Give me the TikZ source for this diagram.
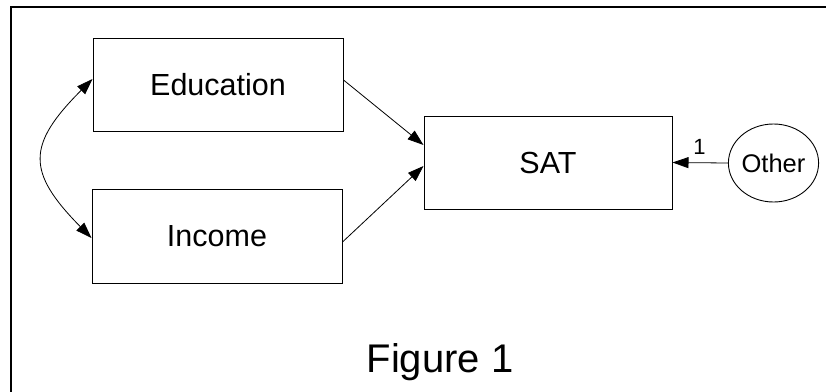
\documentclass[tikz,border=0pt]{standalone}
\usepackage{fontspec}
\setmainfont{Liberation Sans}
\usetikzlibrary{arrows.meta,shapes.geometric,calc}

\tikzset{
  varbox/.style={draw, line width=1pt, rectangle, inner sep=0pt,
    minimum width=250pt, minimum height=93pt,
    font=\fontsize{30.5}{36}\selectfont},
  errnode/.style={draw, line width=0.9pt, ellipse, inner sep=0pt,
    minimum width=69pt, minimum height=78pt,
    font=\fontsize{25.5}{30}\selectfont},
  regpath/.style={line width=0.8pt, -{Triangle[length=16pt,width=11pt]}},
  framestyle/.style={line width=2.5pt}
}

\begin{document}
\begin{tikzpicture}[x=1pt,y=-1pt]
  \useasboundingbox (0,0) rectangle (826,391);

  % outer frame (only top and left edges fall inside the page)
  \coordinate (fbl) at (11,395);
  \coordinate (ftl) at (11,7);
  \coordinate (ftr) at (830,7);
  \draw[framestyle] (fbl) -- (ftl) -- (ftr);

  % observed variables
  \node[varbox] (edu) at (218,84.5) {Education};
  \node[varbox, minimum height=94pt] (inc) at (217,236) {Income};
  \node[varbox, minimum width=248pt] (sat) at (548,162.5) {SAT};

  % error term
  \node[errnode] (oth) at (773.5,163) {Other};

  % regression paths
  \draw[regpath] ($(edu.east)+(0,-4.5)$) -- ($(sat.west)+(0,-17.5)$);
  \draw[regpath] ($(inc.east)+(0,6)$) -- ($(sat.west)+(0,3.5)$);
  \draw[regpath] (oth.west) -- (sat.east);
  \node[font=\fontsize{22}{26}\selectfont] (one) at (699.5,146.5) {1};

  % covariance between the predictors
  \draw[line width=0.8pt, {Triangle[length=16pt,width=11pt]}-{Triangle[length=16pt,width=11pt]}]
    ($(edu.west)+(0,-5.5)$) .. controls (26.5,145) and (26.5,172) .. ($(inc.west)+(0,2)$);

  % caption
  \node[font=\fontsize{40}{48}\selectfont, anchor=base] (cap) at (440,372) {Figure 1};
\end{tikzpicture}
\end{document}
